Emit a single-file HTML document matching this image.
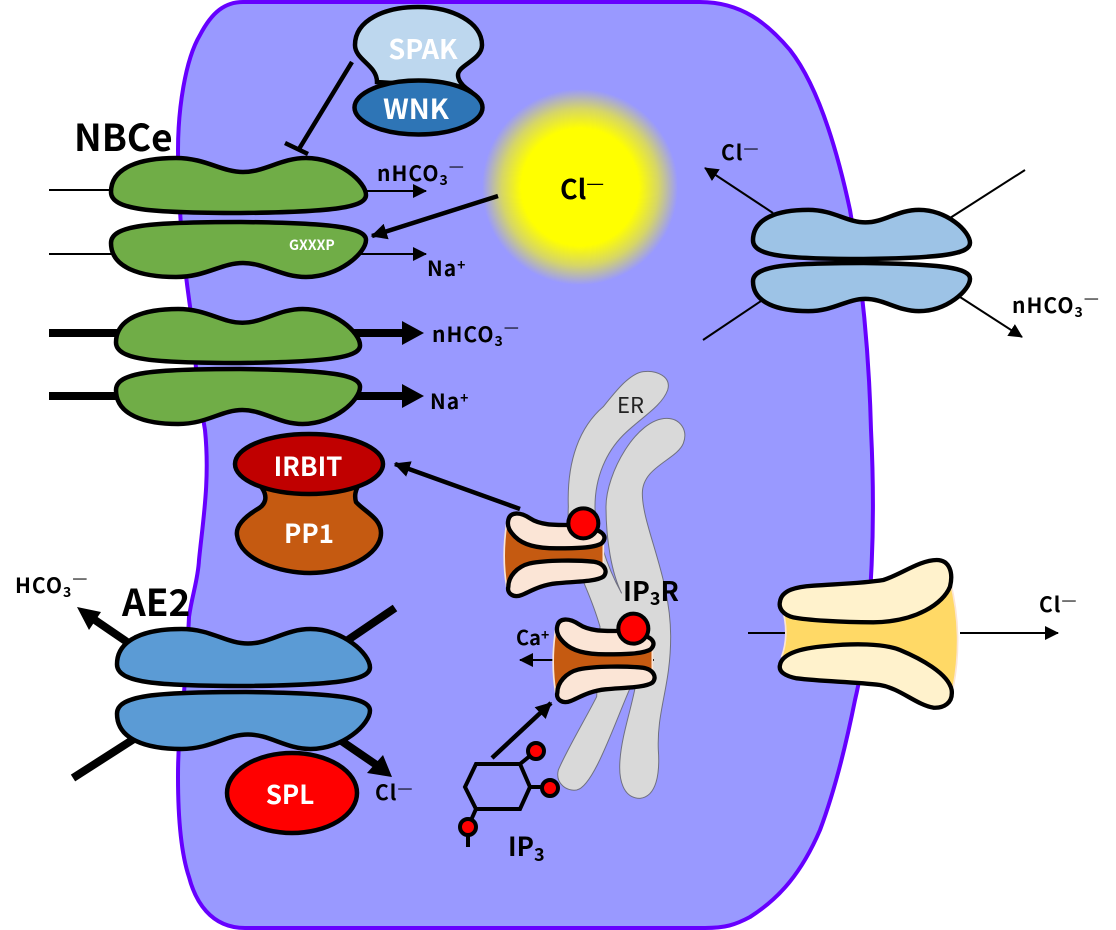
<!DOCTYPE html>
<html>
<head>
<meta charset="utf-8">
<style>
html,body{margin:0;padding:0;background:#fff;}
svg{display:block;}
text{font-family:"Noto Sans CJK KR","Liberation Sans",sans-serif;font-weight:700;fill:#000;}
.w{fill:#fff;}
.p{stroke:#000;stroke-width:4.5;}
.s{font-size:21px;letter-spacing:1px;}
.d{font-size:17px;font-weight:400;letter-spacing:0;}
</style>
</head>
<body>
<svg width="1116" height="930" viewBox="0 0 1116 930" xmlns="http://www.w3.org/2000/svg">
<defs>
<radialGradient id="glow"><stop offset="0" stop-color="#ffff00"/><stop offset="0.6" stop-color="#ffff00"/><stop offset="0.8" stop-color="#ffff00" stop-opacity="0.6"/><stop offset="1" stop-color="#ffff00" stop-opacity="0"/></radialGradient>
<path id="t" vector-effect="non-scaling-stroke" d="M0 35C0 10 30 1 65 1C95 1 110 15 132 15C154 15 170 1 195 1C228 1 255 25 255 38C255 50 225 55 130 56C40 56 0 53 0 35Z"/>
<marker id="a" markerWidth="7" markerHeight="7" refX="6.5" refY="3.5" orient="auto" markerUnits="strokeWidth"><path d="M0 0L7 3.5L0 7Z"/></marker>
<marker id="b" markerWidth="3.600" markerHeight="3.600" refX="3.300" refY="1.800" orient="auto" markerUnits="strokeWidth"><path d="M0 0L3.600 1.800L0 3.600Z"/></marker>
<g id="ch">
<path d="M80 490Q65 590 80 680L370 640L370 540Z" fill="#c55a11" stroke="#fbe5d6" stroke-width="5"/>
<path d="M85 480C90 455 120 455 150 475C180 495 220 495 265 495L350 510C375 520 380 535 365 550C340 565 280 565 230 565C170 565 130 555 105 530C90 515 80 500 85 480Z" fill="#fbe5d6" stroke="#000" stroke-width="13"/>
<path d="M85 680C85 650 110 620 150 610C200 600 290 600 340 605C375 610 385 635 370 650C350 665 280 665 230 670C180 675 150 695 125 705C100 715 80 700 85 680Z" fill="#fbe5d6" stroke="#000" stroke-width="13"/>
</g>
</defs>

<!-- cell -->
<path d="M243 2L700 2C742 2 768 24 790 50C815 82 835 140 850 210C862 280 869 350 871 430C875 510 874 620 855 700C846 745 835 790 820 830C802 872 780 898 750 917C735 925 725 928 705 928L245 928C210 928 195 900 189 877C180 850 178 810 178 777C178 745 180 720 184 693C186 665 188 640 189 617C192 595 198 580 199 560C203 520 210 480 205 430C200 400 195 370 192 320C186 280 178 220 178 150C178 110 185 60 200 35C212 12 225 2 243 2Z" fill="#9999ff" stroke="#6600ff" stroke-width="4"/>

<!-- glow -->
<circle cx="580" cy="187" r="98" fill="url(#glow)"/>

<!-- ER -->
<g transform="translate(480 360) scale(.33333)">
<path d="M490 35C530 30 575 50 563 90C545 140 480 175 430 225C380 275 345 350 345 440C345 510 380 620 425 700C395 640 378 540 378 440C378 340 470 175 560 175C600 175 625 210 610 250C590 300 487 320 487 400C487 500 572 650 572 830C572 980 530 1050 535 1170C540 1240 530 1310 480 1315C430 1315 415 1260 420 1200C425 1130 450 1060 465 985L450 985C400 1100 340 1280 290 1290C260 1295 225 1270 235 1230C260 1170 320 1070 350 1010L360 800C340 730 320 690 300 640C270 570 262 500 265 440C260 300 300 200 370 140C410 90 450 40 490 35Z" fill="#d9d9d9" stroke="#6f7080" stroke-width="3"/>
</g>

<!-- thin lines -->
<g stroke="#000" stroke-width="2" fill="none">
<line x1="49" y1="190" x2="112" y2="190"/>
<line x1="49" y1="254" x2="112" y2="254"/>
<line x1="364" y1="191" x2="426" y2="191" marker-end="url(#a)"/>
<line x1="360" y1="254" x2="426" y2="254" marker-end="url(#a)"/>
<line x1="773" y1="213" x2="705" y2="168" marker-end="url(#a)"/>
<line x1="950" y1="218" x2="1025" y2="170"/>
<line x1="764" y1="299" x2="703" y2="340"/>
<line x1="960" y1="297" x2="1022" y2="337" marker-end="url(#a)"/>
<line x1="748" y1="633" x2="786" y2="633"/>
<line x1="960" y1="633" x2="1058" y2="633" marker-end="url(#a)"/>
<line x1="553" y1="660" x2="520" y2="660" marker-end="url(#a)"/>
<line x1="651" y1="660" x2="654" y2="660"/>
</g>

<!-- thick lines -->
<g stroke="#000" stroke-width="8" fill="none">
<line x1="49" y1="333" x2="405" y2="333"/>
<line x1="49" y1="396" x2="405" y2="396"/>
<line x1="130" y1="644" x2="92" y2="618"/>
<line x1="345" y1="642" x2="395" y2="608"/>
<line x1="137" y1="737" x2="73" y2="778"/>
<line x1="340" y1="740" x2="378" y2="766"/>
</g>
<path d="M402 321L424 333L402 345ZM402 384L424 396L402 408ZM77 607L101 612L89 630ZM392 777L367 773L383 755Z"/>
<g stroke="#000" stroke-width="4.500" fill="none">
<line x1="352" y1="62" x2="299" y2="149"/>
<line x1="285" y1="143" x2="308" y2="154"/>
<line x1="498" y1="196" x2="372" y2="236" marker-end="url(#b)"/>
<line x1="520" y1="509" x2="395" y2="464" marker-end="url(#b)"/>
<line x1="492" y1="758" x2="551" y2="703" marker-end="url(#b)"/>
</g>

<!-- NBCe -->
<g fill="#70ad47">
<use href="#t" class="p" transform="translate(111 157)"/>
<use href="#t" class="p" transform="translate(111 278) scale(1 -1)"/>
<use href="#t" class="p" transform="translate(116 308) scale(.957 .982)"/>
<use href="#t" class="p" transform="translate(116 425) scale(.957 -1)"/>
</g>
<!-- AE2 -->
<g fill="#5b9bd5">
<use href="#t" class="p" transform="translate(117 628) scale(.992 1.036)"/>
<use href="#t" class="p" transform="translate(117 750) scale(.992 -1.036)"/>
</g>
<!-- light blue -->
<g fill="#9dc3e6">
<use href="#t" class="p" transform="translate(753 209) scale(.851 .893)"/>
<use href="#t" class="p" transform="translate(753 312) scale(.851 -.875)"/>
</g>

<!-- SPAK / WNK -->
<path d="M377 82C377 65 355 60 355 45C355 20 385 7 418 7C452 7 482 22 482 45C482 60 458 65 458 75C458 80 462 85 466 88Z" fill="#bdd7ee" stroke="#000" stroke-width="4.500"/>
<ellipse cx="418.500" cy="107.500" rx="64" ry="27" fill="#2e75b6" stroke="#000" stroke-width="4.500"/>

<!-- PP1 / IRBIT -->
<path d="M262 488C268 497 266 505 256 510C240 520 236 528 237 535C240 560 280 573 310 573C345 573 381 555 381 533C381 518 365 512 356 502C354 495 356 490 358 486Z" fill="#c55a11" stroke="#000" stroke-width="4.500"/>
<ellipse cx="309" cy="464" rx="74" ry="30" fill="#c00000" stroke="#000" stroke-width="4.500"/>

<!-- SPL -->
<ellipse cx="292" cy="793" rx="65" ry="40" fill="#ff0000" stroke="#000" stroke-width="4.500"/>

<!-- IP3R channels -->
<g transform="translate(480 360) scale(.33333)">
<use href="#ch"/>
<circle cx="310" cy="490" r="45" fill="#ff0000" stroke="#000" stroke-width="12"/>
<use href="#ch" transform="translate(147 318)"/>
<circle cx="460" cy="806" r="45" fill="#ff0000" stroke="#000" stroke-width="12"/>
</g>

<!-- Yellow channel -->
<g transform="translate(740 540) scale(.33333)">
<path d="M125 200Q150 280 125 350L640 440Q670 280 630 120Z" fill="#ffd966" stroke="#fbe5d6" stroke-width="5"/>
<path d="M120 185C125 150 170 140 220 137C290 132 370 130 430 120C480 105 540 60 590 60C630 60 640 100 630 140C610 190 530 245 400 247C300 247 200 240 160 232C130 225 115 205 120 185Z" fill="#fff2cc" stroke="#000" stroke-width="13"/>
<path d="M120 375C125 345 170 325 260 318C340 310 430 310 480 330C540 355 625 400 635 450C640 490 610 505 580 503C530 495 480 445 420 435C340 425 250 425 170 415C135 408 115 395 120 375Z" fill="#fff2cc" stroke="#000" stroke-width="13"/>
</g>

<!-- IP3 molecule -->
<g stroke="#000" stroke-width="4" fill="none">
<path d="M476 764L520 764L530 787L520 809L476 809L465 787Z"/>
<line x1="520" y1="764" x2="536" y2="751"/>
<line x1="530" y1="787" x2="550" y2="787"/>
<line x1="476" y1="809" x2="468" y2="827"/>
<line x1="468" y1="827" x2="468" y2="847"/>
</g>
<g fill="#ff0000" stroke="#000" stroke-width="4">
<circle cx="536" cy="751" r="8"/>
<circle cx="550" cy="788" r="8"/>
<circle cx="468" cy="827" r="8"/>
</g>

<!-- Labels -->
<text class="w" x="423" y="59" font-size="27" text-anchor="middle">SPAK</text>
<text class="w" x="416" y="119" font-size="28" text-anchor="middle">WNK</text>
<text x="74" y="151" font-size="37">NBCe</text>
<text class="w" x="289" y="250" font-size="14">GXXXP</text>
<text class="w" x="308" y="476" font-size="26" text-anchor="middle">IRBIT</text>
<text class="w" x="309" y="543" font-size="26" text-anchor="middle">PP1</text>
<text class="w" x="290" y="804" font-size="26" text-anchor="middle">SPL</text>
<text x="560" y="199" font-size="27">Cl<tspan font-size="20" dy="-9" font-weight="400">—</tspan></text>

<text x="377" y="181" class="s">nHCO<tspan font-size="14" dy="4">3</tspan><tspan class="d" dy="-13">—</tspan></text>
<text x="432" y="342" class="s">nHCO<tspan font-size="14" dy="4">3</tspan><tspan class="d" dy="-13">—</tspan></text>
<text x="1012" y="313" class="s">nHCO<tspan font-size="14" dy="4">3</tspan><tspan class="d" dy="-13">—</tspan></text>
<text x="15" y="593" class="s">HCO<tspan font-size="14" dy="4">3</tspan><tspan class="d" dy="-13">—</tspan></text>
<text x="427" y="276" class="s">Na<tspan font-size="14" dy="-6">+</tspan></text>
<text x="430" y="409" class="s">Na<tspan font-size="14" dy="-6">+</tspan></text>
<text x="721" y="160" class="s">Cl<tspan class="d" dy="-6">—</tspan></text>
<text x="1039" y="612" class="s">Cl<tspan class="d" dy="-6">—</tspan></text>
<text x="375" y="800" class="s">Cl<tspan class="d" dy="-6">—</tspan></text>
<text x="516" y="645" font-size="20">Ca<tspan font-size="14" dy="-5">+</tspan></text>
<text x="122" y="616" font-size="37">AE2</text>
<text x="623" y="601" font-size="27">IP<tspan font-size="18" dy="4">3</tspan><tspan dy="-4">R</tspan></text>
<text x="508" y="856" font-size="26">IP<tspan font-size="18" dy="5">3</tspan></text>
<text x="617" y="413" font-size="22" style="font-weight:400;fill:#222">ER</text>
</svg>
</body>
</html>
